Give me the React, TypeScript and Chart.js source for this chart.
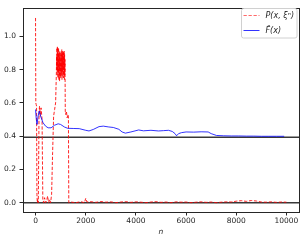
import React, { useEffect, useRef } from 'react';
import { Chart, registerables } from 'chart.js';

Chart.register(...registerables);

// ---- data ----
const redLabel = 'P(x, ξⁿ)';
const blueLabel = 'F̂(x)';
const xTitle = 'n';

const redN = [
  0, 10, 25, 40, 55, 70, 90, 110, 140, 160, 190, 220, 260, 290, 320, 360, 400, 440, 480, 520, 560, 600,
  640, 680, 720, 760, 800,
  830, 838, 846, 854, 862, 870, 878, 886, 894, 902, 910, 918, 926, 934, 942, 950, 958, 966, 974, 982,
  990, 998, 1006, 1014, 1022, 1030, 1038, 1046, 1054, 1062, 1070, 1078, 1086, 1094, 1102, 1110, 1118,
  1126, 1134, 1142, 1150, 1158, 1166, 1174,
  1185, 1200, 1230, 1260, 1290, 1310, 1325,
  1400, 1600, 1800, 1950, 2000, 2050, 2200, 2400, 2600, 2800, 3000, 3200, 3400, 3600, 3800, 4000,
  4200, 4400, 4600, 4800, 5000, 5200, 5400, 5600, 5800, 6000, 6200, 6400, 6600, 6800, 7000, 7200,
  7400, 7600, 7800, 8000, 8200, 8400, 8600, 8800, 9000, 9200, 9400, 9600, 9800, 9999,
];
const redV = [
  1.11, 0.6, 0.59, 0.58, 0.05, 0.0, 0.02, 0.0, 0.55, 0.58, 0.52, 0.57, 0.5, 0.02, 0.0, 0.03, 0.0, 0.01,
  0.04, 0.0, 0.02, 0.0, 0.05, 0.3, 0.52, 0.56, 0.6,
  0.78, 0.88, 0.8, 0.93, 0.77, 0.94, 0.79, 0.92, 0.75, 0.9, 0.78, 0.93, 0.74, 0.89, 0.8, 0.91, 0.73,
  0.88, 0.77, 0.9, 0.75, 0.86, 0.8, 0.91, 0.76, 0.89, 0.78, 0.92, 0.74, 0.9, 0.79, 0.91, 0.76, 0.88,
  0.8, 0.91, 0.75, 0.9, 0.78, 0.91, 0.74, 0.89, 0.77, 0.86,
  0.55, 0.53, 0.55, 0.51, 0.53, 0.52, 0.0,
  0.004, 0.0, 0.006, 0.0, 0.026, 0.004, 0.006, 0.002, 0.007, 0.003, 0.005, 0.0,
  0.004, 0.006, 0.002, 0.005, 0.003, 0.0, 0.004, 0.006, 0.002, 0.004, 0.0, 0.005, 0.003, 0.004, 0.0,
  0.003, 0.005, 0.002, 0.004, 0.0, 0.003, 0.005, 0.004, 0.009, 0.012, 0.008, 0.013, 0.01, 0.004, 0.003,
  0.005, 0.002, 0.004, 0.003,
];

const blueN = [
  0, 30, 60, 100, 150, 200, 300, 400, 500, 620, 750, 900, 1000, 1150, 1280, 1500, 1740, 2000, 2130,
  2300, 2530, 2700, 2920, 3100, 3320, 3450, 3580, 3800, 4110, 4300, 4600, 4900, 5100, 5300, 5450,
  5560, 5620, 5700, 5820, 6000, 6300, 6600, 6880, 7000, 7210, 7500, 7800, 8100, 8400, 8700, 9000,
  9300, 9600, 9910,
];
const blueV = [
  0.56, 0.5, 0.47, 0.52, 0.55, 0.52, 0.48, 0.46, 0.45, 0.45, 0.465, 0.474, 0.47, 0.455, 0.447, 0.446,
  0.445, 0.435, 0.431, 0.44, 0.457, 0.46, 0.455, 0.452, 0.441, 0.425, 0.418, 0.425, 0.437, 0.432,
  0.435, 0.431, 0.433, 0.435, 0.428, 0.415, 0.402, 0.415, 0.421, 0.425, 0.424, 0.426, 0.425, 0.415,
  0.404, 0.402, 0.401, 0.401, 0.4, 0.4, 0.399, 0.399, 0.399, 0.399,
];

const refLevels = [0, 0.393];
const xTicks = [0, 2000, 4000, 6000, 8000, 10000];
const yTicks = [0, 0.2, 0.4, 0.6, 0.8, 1.0];
const xRange = [-500, 10500];
const yRange = [-0.056, 1.17];

// ---- styles ----
const RED = 'rgba(255,0,0,0.85)';
const BLUE = 'rgba(0,0,255,0.8)';
const SPINE = '#262626';
const FONT = '"DejaVu Sans", sans-serif';

const framePlugin = {
  id: 'frameAndLegend',
  afterDraw(chart: any) {
    const { ctx, chartArea: a } = chart;
    ctx.save();
    ctx.strokeStyle = SPINE;
    ctx.lineWidth = 1;
    ctx.strokeRect(a.left + 0.5, a.top + 0.5, a.right - a.left, a.bottom - a.top);

    // legend
    const bx = 241.5, by = 8.5, bw = 55.5, bh = 29.5;
    ctx.beginPath();
    ctx.roundRect(bx, by, bw, bh, 2);
    ctx.fillStyle = 'rgba(255,255,255,0.8)';
    ctx.fill();
    ctx.strokeStyle = '#d0d0d0';
    ctx.lineWidth = 1;
    ctx.stroke();

    const entries = [
      { label: redLabel, color: 'rgba(255,80,80,0.85)', dash: [3.3, 1.7], y: 15.5 },
      { label: blueLabel, color: BLUE, dash: [], y: 30.5 },
    ];
    ctx.font = 'italic 8px ' + FONT;
    ctx.textBaseline = 'middle';
    ctx.textAlign = 'left';
    for (const e of entries) {
      ctx.beginPath();
      ctx.setLineDash(e.dash);
      ctx.strokeStyle = e.color;
      ctx.lineWidth = 1;
      ctx.moveTo(243.5, e.y);
      ctx.lineTo(259.5, e.y);
      ctx.stroke();
      ctx.setLineDash([]);
      ctx.fillStyle = SPINE;
      ctx.fillText(e.label, 265.5, e.y + 0.5);
    }
    ctx.restore();
  },
};

export default function App() {
  const ref = useRef<HTMLCanvasElement | null>(null);

  useEffect(() => {
    document.body.style.margin = '0';
    const canvas = ref.current;
    if (!canvas) return;

    const refSets = refLevels.map((lv) => ({
      label: 'ref' + lv,
      data: [
        { x: xRange[0], y: lv },
        { x: xRange[1], y: lv },
      ],
      borderColor: 'rgba(0,0,0,0.78)',
      borderWidth: 1.5,
      pointRadius: 0,
      order: 3,
    }));

    const chart = new Chart(canvas, {
      type: 'line',
      data: {
        datasets: [
          {
            label: blueLabel,
            data: blueN.map((n, i) => ({ x: n, y: blueV[i] })),
            borderColor: BLUE,
            borderWidth: 1,
            pointRadius: 0,
            tension: 0,
            order: 0,
          },
          {
            label: redLabel,
            data: redN.map((n, i) => ({ x: n, y: redV[i] })),
            borderColor: RED,
            borderWidth: 1,
            borderDash: [3.3, 1.7],
            pointRadius: 0,
            tension: 0,
            order: 1,
          },
          ...refSets,
        ],
      },
      options: {
        animation: false,
        responsive: false,
        devicePixelRatio: 1,
        layout: { padding: { left: 0, top: 5, right: 8, bottom: 0 } },
        plugins: { legend: { display: false }, tooltip: { enabled: false } },
        scales: {
          x: {
            type: 'linear',
            min: xRange[0],
            max: xRange[1],
            afterFit: (s: any) => {
              s.height = 30;
            },
            afterBuildTicks: (s: any) => {
              s.ticks = xTicks.map((v) => ({ value: v }));
            },
            ticks: {
              color: SPINE,
              font: { family: FONT, size: 7.5 },
              padding: 1,
              maxRotation: 0,
              autoSkip: false,
              callback: (v: any) => String(v),
            },
            grid: {
              display: true,
              drawOnChartArea: false,
              drawTicks: true,
              tickLength: 3.5,
              color: SPINE,
            },
            border: { display: false },
            title: {
              display: true,
              text: xTitle,
              color: SPINE,
              font: { family: FONT, size: 7.5, style: 'italic' },
              padding: { top: 0, bottom: 5.5 },
            },
          },
          y: {
            type: 'linear',
            min: yRange[0],
            max: yRange[1],
            afterFit: (s: any) => {
              s.width = 23;
            },
            afterBuildTicks: (s: any) => {
              s.ticks = yTicks.map((v) => ({ value: v }));
            },
            ticks: {
              color: SPINE,
              font: { family: FONT, size: 7.5 },
              padding: 3.5,
              autoSkip: false,
              callback: (v: any) => Number(v).toFixed(1),
            },
            grid: {
              display: true,
              drawOnChartArea: false,
              drawTicks: true,
              tickLength: 3.5,
              color: SPINE,
            },
            border: { display: false },
          },
        },
      },
      plugins: [framePlugin],
    } as any);

    return () => chart.destroy();
  }, []);

  return (
    <div style={{ width: 307, height: 242 }}>
      <canvas ref={ref} width={307} height={242} />
    </div>
  );
}
